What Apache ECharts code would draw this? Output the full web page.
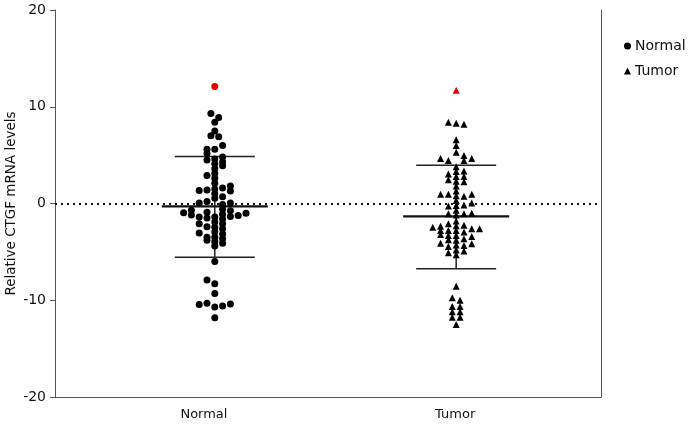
<!DOCTYPE html>
<html>
<head>
<meta charset="utf-8">
<script src="https://cdn.jsdelivr.net/npm/echarts@6/dist/echarts.min.js"></script>
<style>html,body{margin:0;padding:0;background:#fff}#c{width:694px;height:425px}</style>
</head>
<body>
<div id="c"></div>
<script>
// ---- data ----
const categories = ["Normal", "Tumor"];
const yTicks = [-20, -10, 0, 10, 20];
// [swarm column offset, value]
const normalPoints = [
  [-0.5,9.3],[0.5,8.9],[0,8.4],[0,7.5],[-0.5,7.0],[0.5,6.9],[1,6.0],[-1,5.6],[0,5.6],[-1,5.2],
  [1,4.8],[-1,4.5],[0,4.6],[1,4.3],[0,4.1],[1,3.9],[0,3.6],[0,3.1],[-1,2.9],[0,2.6],[0,2.1],
  [-2,1.35],[-1,1.4],[0,1.5],[1,1.6],[2,1.8],[2,1.3],[0,1.0],[1,0.7],[0,0.55],[-2,0.05],[-1,0.2],[1,-0.1],[2,0.05],
  [-4,-0.95],[-3,-0.7],[-3,-1.2],[-2,-1.4],[-1,-0.9],[-1,-1.5],[0,-1.4],[1,-0.6],[1,-1.1],[2,-0.75],[2,-1.35],[3,-1.25],[4,-1.0],
  [0,-1.9],[1,-1.6],[-2,-2.1],[-1,-2.4],[0,-2.45],[1,-2.1],[-2,-3.05],[-1,-3.5],[-1,-3.8],[0,-2.95],[0,-3.5],[0,-3.95],[0,-4.4],
  [1,-2.6],[1,-3.15],[1,-3.65],[1,-4.1],
  [0,-6.0],[-1,-7.9],[0,-8.3],[0,-9.3],[-2,-10.45],[-1,-10.3],[0,-10.7],[1,-10.6],[2,-10.4],[0,-11.8]
];
const normalOutliers = [[0,12.1]];
const tumorPoints = [
  [-1,8.4],[0,8.3],[1,8.2],[0,6.6],[0,6.0],[0,5.3],[-2,4.65],[-1,4.45],[1,4.95],[1,4.45],[2,4.65],
  [0,3.8],[0,3.3],[0,2.8],[0,2.3],[0,1.8],[0,1.3],[0,0.8],[0,0.3],[0,-0.2],[0,-0.7],[0,-1.2],[0,-1.8],
  [0,-2.3],[0,-2.8],[0,-3.3],[0,-3.8],[0,-4.3],[0,-4.8],[0,-5.3],
  [-1,3.05],[-1,2.45],[1,3.35],[1,2.8],[1,2.25],[-2,0.95],[-1,0.95],[1,0.75],[2,0.95],[2,0.05],[-1,-0.25],[1,-0.15],
  [-1,-1.05],[1,-1.05],[2,-1.0],
  [-3,-2.45],[-2,-2.35],[-2,-2.8],[-2,-3.2],[-1,-2.1],[-1,-2.8],[-1,-3.3],[-1,-3.75],[1,-2.25],[1,-2.95],[1,-3.65],
  [1,-4.35],[1,-4.9],[2,-2.6],[2,-3.4],[2,-4.15],[3,-2.6],[-2,-4.1],[-1,-4.45],[-1,-5.1],
  [0,-8.55],[-0.5,-9.75],[0.5,-10.0],[-0.5,-10.65],[0.5,-10.65],[-0.5,-11.2],[0.5,-11.2],[-0.5,-11.75],[0.5,-11.75],[0,-12.5]
];
const tumorOutliers = [[0,11.7]];
// mean, upper SD, lower SD
const normalStats = [-0.3, 4.86, -5.55];
const tumorStats = [-1.34, 3.96, -6.75];

// ---- layout ----
const centers = [1, 2];
const labelPos = [0.955, 1.996];
const step = 0.0323;
const toXY = (c) => (p) => [c + p[0] * step, p[1]];

const chart = echarts.init(document.getElementById('c'), null, {renderer: 'canvas'});
const font = 'DejaVu Sans';
const statsData = [[centers[0], ...normalStats], [centers[1], ...tumorStats]];

chart.setOption({
  animation: false,
  backgroundColor: '#fff',
  grid: {left: 55, right: 93, top: 10, bottom: 28, containLabel: false, outerBoundsMode: 'none'},
  legend: {
    orient: 'vertical', left: 619, top: 34, itemGap: 11,
    itemWidth: 7, itemHeight: 7,
    textStyle: {fontFamily: font, fontSize: 14, color: '#111', padding: [0,0,0,-1]},
    data: [{name: 'Normal', icon: 'circle'}, {name: 'Tumor', icon: 'triangle'}]
  },
  xAxis: {
    type: 'value', min: 0.338, max: 2.6,
    splitLine: {show: false},
    axisLine: {show: true, onZero: false, lineStyle: {color: '#555', width: 1}},
    axisTick: {show: false},
    axisLabel: {
      customValues: labelPos, margin: 11,
      formatter: (v) => categories[labelPos.indexOf(v)] || '',
      fontFamily: font, fontSize: 13, color: '#111'
    }
  },
  yAxis: [{
    type: 'value', min: -20, max: 20, interval: 10,
    name: 'Relative CTGF mRNA levels', nameLocation: 'middle', nameGap: 37, nameMoveOverlap: false,
    nameTextStyle: {fontFamily: font, fontSize: 13.5, color: '#111'},
    splitLine: {show: false},
    axisLine: {show: true, lineStyle: {color: '#555'}},
    axisTick: {show: true, length: 5, lineStyle: {color: '#555'}},
    axisLabel: {fontFamily: font, fontSize: 14, color: '#111', margin: 9,
      formatter: (v) => yTicks.includes(v) ? String(v) : ''}
  }, {
    type: 'value', min: -20, max: 20, position: 'right',
    splitLine: {show: false},
    axisLine: {show: true, lineStyle: {color: '#555'}},
    axisTick: {show: false}, axisLabel: {show: false}
  }],
  series: [
    {
      name: 'zero', type: 'line', data: [], silent: true,
      markLine: {
        symbol: 'none', silent: true, label: {show: false},
        lineStyle: {color: '#111', type: [2, 4], width: 2},
        data: [{yAxis: 0}]
      }
    },
    {
      name: 'stats', type: 'custom', silent: true, z: 3,
      data: statsData,
      renderItem: (params, api) => {
        const c = api.value(0);
        const pm = api.coord([c, api.value(1)]);
        const pu = api.coord([c, api.value(2)]);
        const pl = api.coord([c, api.value(3)]);
        const st = {stroke: '#222', lineWidth: 1.5};
        return {type: 'group', children: [
          {type: 'line', shape: {x1: pm[0]-53, y1: pm[1], x2: pm[0]+53, y2: pm[1]}, style: {stroke: '#111', lineWidth: 2.2}},
          {type: 'line', shape: {x1: pu[0]-40, y1: pu[1], x2: pu[0]+40, y2: pu[1]}, style: st},
          {type: 'line', shape: {x1: pl[0]-40, y1: pl[1], x2: pl[0]+40, y2: pl[1]}, style: st},
          {type: 'line', shape: {x1: pu[0], y1: pu[1], x2: pl[0], y2: pl[1]}, style: st}
        ]};
      }
    },
    {
      name: 'Normal', type: 'scatter', symbol: 'circle', symbolSize: 7, z: 4,
      itemStyle: {color: '#000', opacity: 1},
      data: normalPoints.map(toXY(centers[0])).concat(
        normalOutliers.map(toXY(centers[0])).map(v => ({value: v, itemStyle: {color: '#e00000'}})))
    },
    {
      name: 'Tumor', type: 'scatter', symbol: 'triangle', symbolSize: 7, z: 4,
      itemStyle: {color: '#000', opacity: 1},
      data: tumorPoints.map(toXY(centers[1])).concat(
        tumorOutliers.map(toXY(centers[1])).map(v => ({value: v, itemStyle: {color: '#e00000'}})))
    }
  ]
});
</script>
</body>
</html>
